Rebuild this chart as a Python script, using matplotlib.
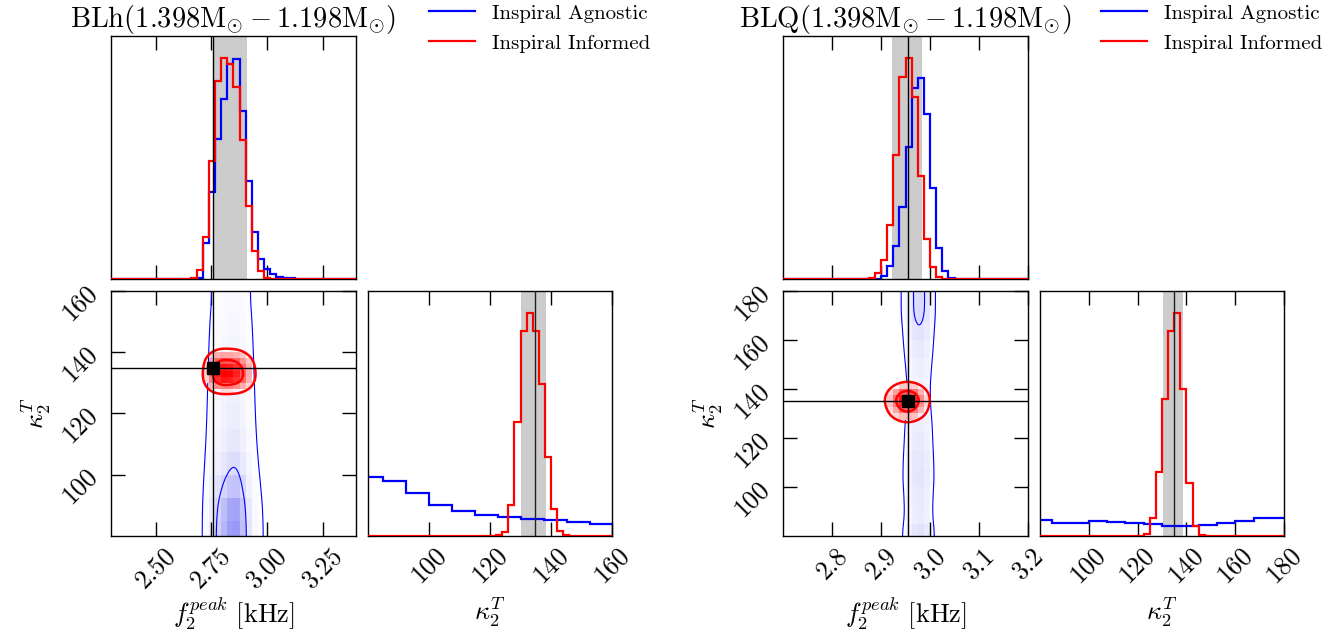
import numpy as np
import matplotlib
matplotlib.use('Agg')
import matplotlib.pyplot as plt
from matplotlib.colors import LinearSegmentedColormap, PowerNorm
from matplotlib.lines import Line2D

plt.rcParams['font.family'] = 'serif'
plt.rcParams['font.serif'] = ['cmr10']
plt.rcParams['mathtext.fontset'] = 'cm'
plt.rcParams['axes.formatter.use_mathtext'] = True
plt.rcParams['axes.unicode_minus'] = False

# ------------------------------------------------------------------ data
labels = ['Inspiral Agnostic', 'Inspiral Informed']
xlabel_f = r'$f_2^{peak}\ [\mathrm{kHz}]$'
xlabel_k = r'$\kappa_2^T$'

# ---- BLh
blh_title = r'$\mathrm{BLh}(1.398\mathrm{M}_{\odot}-1.198\mathrm{M}_{\odot})$'
blh_f_range = (2.3, 3.4)
blh_k_range = (80.0, 160.0)
blh_f_ticks = [2.50, 2.75, 3.00, 3.25]
blh_k_ticks = [100, 120, 140, 160]
blh_f_truth = 2.760
blh_k_truth = 134.8
blh_f_band = (2.762, 2.910)
blh_k_band = (130.0, 138.4)
# f2peak histograms, 40 bins over the f range
blh_f_agnostic = [0] * 13 + [1, 3, 107, 260, 420, 540, 645, 660, 503, 293, 142,
                             59, 30, 15, 7, 3, 2] + [0] * 10
blh_f_informed = [0] * 13 + [3, 27, 125, 355, 595, 663, 645, 577, 417, 220, 83,
                             23, 3, 1] + [0] * 13
# kappa histograms
blh_k_informed = [0] * 21 + [2, 12, 92, 340, 610, 662, 610, 452, 234, 80, 15, 2] + [0] * 7
blh_k_agnostic_start = 77.35
blh_k_agnostic_width = 7.55
blh_k_agnostic = [174, 163, 127, 93, 73, 63, 57, 52, 47, 42, 35]

# ---- BLQ
blq_title = r'$\mathrm{BLQ}(1.398\mathrm{M}_{\odot}-1.198\mathrm{M}_{\odot})$'
blq_f_range = (2.7, 3.2)
blq_k_range = (80.0, 180.0)
blq_f_ticks = [2.8, 2.9, 3.0, 3.1, 3.2]
blq_k_ticks = [100, 120, 140, 160, 180]
blq_f_truth = 2.956
blq_k_truth = 134.9
blq_f_band = (2.923, 2.983)
blq_k_band = (130.5, 138.7)
blq_f_agnostic = [0] * 15 + [1, 10, 40, 100, 217, 395, 572, 603, 495, 273, 92, 23, 3] + [0] * 12
blq_f_informed = [0] * 13 + [1, 3, 17, 57, 163, 373, 605, 663, 545, 310, 120, 35, 5] + [0] * 14
blq_k_informed = [0] * 17 + [7, 55, 190, 407, 612, 664, 439, 158, 30, 4] + [0] * 13
blq_k_agnostic_start = 77.5
blq_k_agnostic_width = 7.5
blq_k_agnostic = [47, 38, 40, 45, 43, 39, 36, 31, 30, 34, 40, 46, 54, 54]

# ------------------------------------------------------------------ style
BLUE = '#0000ff'
RED = '#ff0000'
W, H = 1335, 641
fig = plt.figure(figsize=(W / 100, H / 100), dpi=100)


def rect(l, t, r, b):
    return [l / W, 1 - b / H, (r - l) / W, (b - t) / H]


def style(ax, left=True, right=True):
    ax.tick_params(direction='in', length=10, width=1.0, top=True, bottom=True,
                   left=left, right=right, labelsize=18.5, pad=6)
    for s in ax.spines.values():
        s.set_linewidth(1.0)


def step_eval(edges, vals, pts):
    edges = np.asarray(edges, float)
    vals = np.asarray(vals, float)
    idx = np.searchsorted(edges, pts, side='right') - 1
    out = np.zeros_like(pts, dtype=float)
    ok = (idx >= 0) & (idx < len(vals))
    out[ok] = vals[idx[ok]]
    return out


def smooth(v, sigma_cells):
    r = int(4 * sigma_cells) + 1
    x = np.arange(-r, r + 1)
    k = np.exp(-0.5 * (x / sigma_cells) ** 2)
    k /= k.sum()
    vp = np.pad(v, r, mode='edge')
    return np.convolve(vp, k, mode='valid')


def corner(px, title, f_range, k_range, f_ticks, k_ticks, f_truth, k_truth,
           f_band, k_band, f_ag, f_inf, k_inf, k_ag_start, k_ag_width, k_ag,
           blue_levels, red_levels, blue_strength):
    x0 = px
    f_edges = np.linspace(f_range[0], f_range[1], len(f_inf) + 1)
    k_edges = np.linspace(k_range[0], k_range[1], len(k_inf) + 1)
    kag_edges = k_ag_start + k_ag_width * np.arange(len(k_ag) + 1)

    # --- top: f histogram
    ax1 = fig.add_axes(rect(x0, 36, x0 + 245, 279))
    ax1.axvspan(*f_band, color='#cccccc', lw=0, zorder=0)
    ax1.stairs(f_ag, f_edges, color=BLUE, lw=1.6, zorder=2)
    ax1.stairs(f_inf, f_edges, color=RED, lw=1.6, zorder=3)
    ax1.axvline(f_truth, color='k', lw=1.0, zorder=4)
    ax1.set_xlim(*f_range)
    ax1.set_ylim(0, 1.1 * max(max(f_ag), max(f_inf)))
    ax1.set_xticks(f_ticks)
    ax1.set_yticks([])
    ax1.set_xticklabels([])
    style(ax1, left=False, right=False)
    ax1.set_title(title, fontsize=20.5, pad=3)

    # legend in empty cell
    handles = [Line2D([], [], color=BLUE, lw=1.6), Line2D([], [], color=RED, lw=1.6)]
    ax1.legend(handles, labels, loc='upper left', frameon=False, fontsize=15,
               bbox_to_anchor=((x0 + 318) / W, 1 - 4 / H), bbox_transform=fig.transFigure,
               borderaxespad=0, borderpad=0, handlelength=2.2, handletextpad=0.8,
               labelspacing=0.55)

    # --- 2D panel
    ax2 = fig.add_axes(rect(x0, 291, x0 + 245, 536))
    xs = np.linspace(f_range[0], f_range[1], 301)
    ys = np.linspace(k_range[0], k_range[1], 301)
    dx = xs[1] - xs[0]
    dy = ys[1] - ys[0]
    fw = f_edges[1] - f_edges[0]
    kw = k_edges[1] - k_edges[0]

    # blue density (shading on histogram cells)
    Cb = np.outer(np.asarray(k_ag, float), np.asarray(f_ag, float))
    Cb_m = np.ma.masked_less(Cb, blue_levels[0] * Cb.max())
    cmap_b = LinearSegmentedColormap.from_list('b', [(1, 1, 1), (0.6, 0.6, 0.97)])
    ax2.pcolormesh(f_edges, kag_edges, Cb_m, cmap=cmap_b,
                   norm=PowerNorm(gamma=1.7, vmin=0, vmax=Cb.max() / blue_strength),
                   zorder=1, rasterized=True)
    fb = smooth(step_eval(f_edges, f_ag, xs), 0.55 * fw / dx)
    kb = smooth(step_eval(kag_edges, k_ag, ys), 0.45 * k_ag_width / dy)
    Zb = np.outer(kb, fb)
    ax2.contour(xs, ys, Zb, levels=[l * Zb.max() for l in blue_levels],
                colors=BLUE, linewidths=0.8, zorder=2)

    # red density
    Cr = np.outer(np.asarray(k_inf, float), np.asarray(f_inf, float))
    Cr_m = np.ma.masked_less(Cr, red_levels[0] * Cr.max())
    cmap_r = LinearSegmentedColormap.from_list('r', [(1, 1, 1), (1, 0, 0)])
    ax2.pcolormesh(f_edges, k_edges, Cr_m, cmap=cmap_r, vmin=0, vmax=Cr.max(),
                   zorder=3, rasterized=True)
    fr = smooth(step_eval(f_edges, f_inf, xs), 0.6 * fw / dx)
    kr = smooth(step_eval(k_edges, k_inf, ys), 0.6 * kw / dy)
    Zr = np.outer(kr, fr)
    ax2.contour(xs, ys, Zr, levels=[l * Zr.max() for l in red_levels],
                colors=RED, linewidths=1.8, zorder=4)

    ax2.axvline(f_truth, color='k', lw=1.0, zorder=5)
    ax2.axhline(k_truth, color='k', lw=1.0, zorder=5)
    ax2.plot([f_truth], [k_truth], 's', color='k', ms=8, zorder=6)
    ax2.set_xlim(*f_range)
    ax2.set_ylim(*k_range)
    ax2.set_xticks(f_ticks)
    ax2.set_yticks(k_ticks)
    style(ax2)
    for lab in ax2.get_xticklabels():
        lab.set_rotation(45)
    for lab in ax2.get_yticklabels():
        lab.set_rotation(45)
    fig.text((x0 + 122.5) / W, 1 - 613 / H, xlabel_f, fontsize=19,
             ha='center', va='center')
    fig.text((x0 - 75) / W, 1 - 413 / H, xlabel_k, fontsize=19, rotation=90,
             ha='center', va='center')

    # --- kappa histogram
    ax3 = fig.add_axes(rect(x0 + 257, 291, x0 + 501, 536))
    ax3.axvspan(*k_band, color='#cccccc', lw=0, zorder=0)
    ax3.stairs(k_ag, kag_edges, color=BLUE, lw=1.6, zorder=2)
    ax3.stairs(k_inf, k_edges, color=RED, lw=1.6, zorder=3)
    ax3.axvline(k_truth, color='#222222', lw=1.0, zorder=4)
    ax3.set_xlim(*k_range)
    ax3.set_ylim(0, 1.1 * max(max(k_ag), max(k_inf)))
    ax3.set_xticks(k_ticks)
    ax3.set_yticks([])
    style(ax3, left=False, right=False)
    for lab in ax3.get_xticklabels():
        lab.set_rotation(45)
    fig.text((x0 + 379) / W, 1 - 612 / H, xlabel_k, fontsize=19,
             ha='center', va='center')


corner(111, blh_title, blh_f_range, blh_k_range, blh_f_ticks, blh_k_ticks,
       blh_f_truth, blh_k_truth, blh_f_band, blh_k_band,
       blh_f_agnostic, blh_f_informed, blh_k_informed,
       blh_k_agnostic_start, blh_k_agnostic_width, blh_k_agnostic,
       blue_levels=[0.08, 0.575], red_levels=[0.135, 0.607], blue_strength=1.0)

corner(783, blq_title, blq_f_range, blq_k_range, blq_f_ticks, blq_k_ticks,
       blq_f_truth, blq_k_truth, blq_f_band, blq_k_band,
       blq_f_agnostic, blq_f_informed, blq_k_informed,
       blq_k_agnostic_start, blq_k_agnostic_width, blq_k_agnostic,
       blue_levels=[0.35, 0.9], red_levels=[0.135, 0.607], blue_strength=0.55)

fig.savefig('out.png', dpi=100)
